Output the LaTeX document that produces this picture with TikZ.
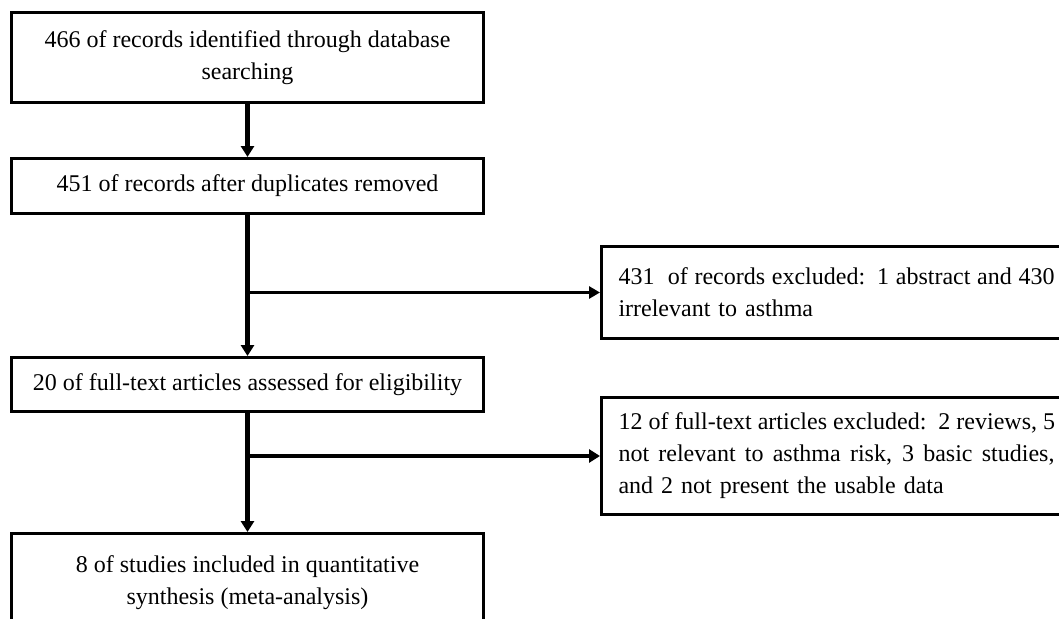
\documentclass[tikz,border=0pt]{standalone}
\usepackage{fontspec}
\setmainfont{Liberation Serif}
\usetikzlibrary{arrows.meta}
\newcommand{\spreadline}[1]{\leavevmode\hbox to 436pt{\spaceskip=.25em plus 1fil\relax #1}}
\begin{document}
\begin{tikzpicture}[x=1pt,y=-1pt,
  box/.style={draw, line width=3pt, inner sep=0pt, anchor=north west,
    font=\fontsize{24}{32}\selectfont},
  lbox/.style={box, align=center, minimum width=472pt},
  rbox/.style={box, align=left, text width=440pt, inner xsep=17pt},
  conn/.style={line width=4.5pt, -{Triangle[length=11pt,width=13pt]}},
  thinconn/.style={line width=3pt, -{Triangle[length=11pt,width=12pt]}}]
\useasboundingbox (0,0) rectangle (1059,618);
\clip (0,0) rectangle (1059,618);
\node[lbox, minimum height=90pt] (b1) at (10,11)
  {466 of records identified through database\\searching};
\node[lbox, minimum height=55pt] (b2) at (10,157)
  {451 of records after duplicates removed};
\node[lbox, minimum height=54pt] (b3) at (10,356)
  {20 of full-text articles assessed for eligibility};
\node[lbox, minimum height=98pt] (b5) at (10,532)
  {8 of studies included in quantitative\\synthesis (meta-analysis)};
\node[rbox, minimum height=92pt] (b4) at (600,245)
  {\spreadline{431\ \ of records excluded: 1 abstract and 430}\\irrelevant to asthma};
\node[rbox, minimum height=117pt] (b6) at (600,396)
  {\spreadline{12 of full-text articles excluded: 2 reviews, 5}\\
   \spreadline{not relevant to asthma risk, 3 basic studies,}\\
   and 2 not present the usable data};
\draw[conn] (b1.south) -- (b2.north);
\draw[conn] (b2.south) -- (b3.north);
\draw[thinconn] (b4.west -| b2.south) -- (b4.west);
\draw[conn] (b3.south) -- (b5.north);
\draw[conn] (b6.west -| b3.south) -- (b6.west);
\end{tikzpicture}
\end{document}
